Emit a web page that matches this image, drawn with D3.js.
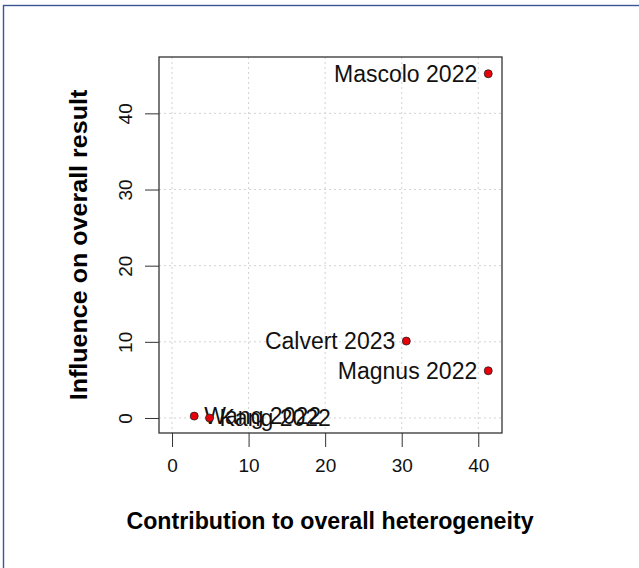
<!DOCTYPE html>
<html>
<head>
<meta charset="utf-8">
<style>
  body { margin: 0; background: #fff; }
  svg { font-family: 'Liberation Sans', Arial, sans-serif; }
  .axis .domain { display: none; }
</style>
</head>
<body>
<svg width="639" height="568"></svg>
<script src="https://d3js.org/d3.v7.min.js"></script>
<script>
// study labels, heterogeneity contribution (x), influence (y)
const studies = ["Mascolo 2022", "Calvert 2023", "Magnus 2022", "Wang 2022", "Kang 2022"];
const contribution = [41.3, 30.6, 41.3, 2.9, 4.9];
const influence = [45.2, 10.1, 6.2, 0.25, 0.0];
const xTicks = [0, 10, 20, 30, 40];
const yTicks = [0, 10, 20, 30, 40];

const svg = d3.select("svg");

// outer frame
svg.append("rect")
  .attr("x", 3.5).attr("y", 5.5)
  .attr("width", 640).attr("height", 570)
  .attr("fill", "none")
  .attr("stroke", "#3b5598")
  .attr("stroke-width", 1.4);

const box = { left: 159, right: 502, top: 57, bottom: 433 };

const x = d3.scaleLinear().domain([-1.7, 43.1]).range([box.left, box.right]);
const y = d3.scaleLinear().domain([-1.97, 47.4]).range([box.bottom, box.top]);

// grid
svg.append("g").selectAll("line").data(xTicks).join("line")
  .attr("x1", d => x(d)).attr("x2", d => x(d))
  .attr("y1", box.top).attr("y2", box.bottom)
  .attr("stroke", "#d3d3d3").attr("stroke-dasharray", "2,3");
svg.append("g").selectAll("line").data(yTicks).join("line")
  .attr("y1", d => y(d)).attr("y2", d => y(d))
  .attr("x1", box.left).attr("x2", box.right)
  .attr("stroke", "#d3d3d3").attr("stroke-dasharray", "2,3");

// axes
svg.append("g")
  .attr("class", "axis")
  .attr("transform", `translate(0,${box.bottom})`)
  .call(d3.axisBottom(x).tickValues(xTicks).tickSize(14).tickPadding(12))
  .call(g => g.selectAll(".tick line").attr("stroke", "#333"))
  .call(g => g.selectAll(".tick text").attr("font-size", 19).attr("fill", "#111").attr("font-family", "Liberation Sans, Arial"));

svg.append("g")
  .attr("class", "axis")
  .attr("transform", `translate(${box.left},0)`)
  .call(d3.axisLeft(y).tickValues(yTicks).tickSize(14))
  .call(g => g.selectAll(".tick line").attr("stroke", "#333"))
  .call(g => g.selectAll(".tick text")
    .attr("font-size", 19).attr("fill", "#111").attr("font-family", "Liberation Sans, Arial")
    .attr("text-anchor", "middle")
    .attr("dominant-baseline", "central")
    .attr("dy", 0)
    .attr("x", 0).attr("y", 0)
    .attr("transform", "translate(-34,0) rotate(-90)"));

// plot box
svg.append("rect")
  .attr("x", box.left).attr("y", box.top)
  .attr("width", box.right - box.left).attr("height", box.bottom - box.top)
  .attr("fill", "none").attr("stroke", "#333").attr("stroke-width", 1.3);

const data = studies.map((s, i) => ({ s, cx: contribution[i], cy: influence[i] }));

// labels
svg.append("g").selectAll("text").data(data).join("text")
  .attr("x", d => d.cx > 20 ? x(d.cx) - 11 : x(d.cx) + 10)
  .attr("y", d => y(d.cy))
  .attr("dy", "0.36em")
  .attr("text-anchor", d => d.cx > 20 ? "end" : "start")
  .attr("font-size", 23)
  .attr("fill", "#111")
  .text(d => d.s);

// points
svg.append("g").selectAll("circle").data(data).join("circle")
  .attr("cx", d => x(d.cx)).attr("cy", d => y(d.cy))
  .attr("r", 4)
  .attr("fill", "#e8000b")
  .attr("stroke", "#222").attr("stroke-width", 0.8);

// axis titles
svg.append("text")
  .attr("x", 330).attr("y", 529)
  .attr("text-anchor", "middle")
  .attr("font-size", 23.2).attr("font-weight", "bold")
  .text("Contribution to overall heterogeneity");

svg.append("text")
  .attr("transform", `translate(87,245) rotate(-90) scale(1.09,1)`)
  .attr("text-anchor", "middle")
  .attr("font-size", 23).attr("font-weight", "bold")
  .text("Influence on overall result");
</script>
</body>
</html>
